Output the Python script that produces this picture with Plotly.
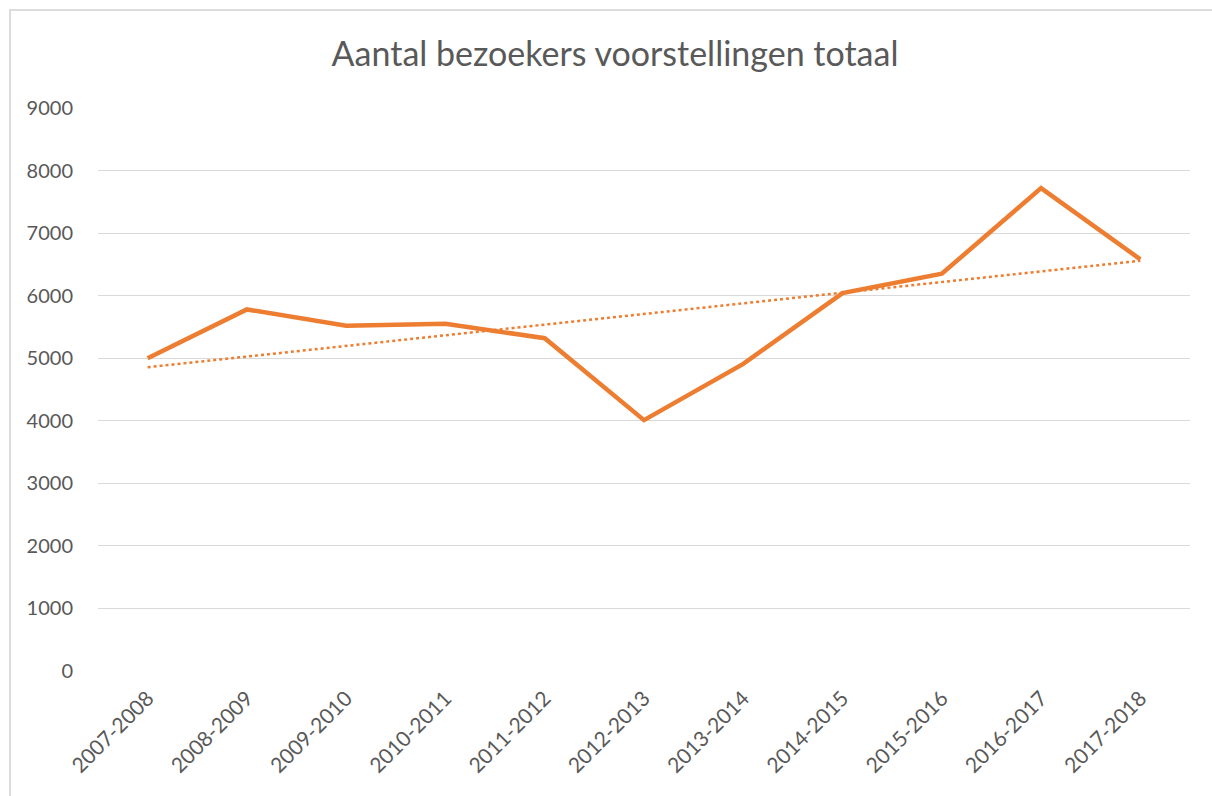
import numpy as np
import plotly.graph_objects as go

# Seasons and total visitors per season
seasons = ["2007-2008", "2008-2009", "2009-2010", "2010-2011", "2011-2012",
           "2012-2013", "2013-2014", "2014-2015", "2015-2016", "2016-2017",
           "2017-2018"]
visitors = [5000, 5780, 5520, 5550, 5320, 4010, 4910, 6040, 6350, 7720, 6580]
y_ticks = [0, 1000, 2000, 3000, 4000, 5000, 6000, 7000, 8000, 9000]

# Linear trend through the series
idx = np.arange(len(visitors))
slope, intercept = np.polyfit(idx, visitors, 1)
trend = slope * idx + intercept

W, H = 1212, 796
L, R, T, B = 98, 22, 108, 125
pw, ph = W - L - R, H - T - B

ORANGE = "#ED7D31"
GRID = "#D9D9D9"
TEXT = "#595959"
FONT = "Lato"

fig = go.Figure()
fig.add_trace(go.Scatter(
    x=seasons, y=visitors, mode="lines",
    line=dict(color=ORANGE, width=4.5, shape="linear"),
    showlegend=False, hoverinfo="x+y",
))
fig.add_trace(go.Scatter(
    x=seasons, y=trend, mode="lines",
    line=dict(color=ORANGE, width=2.5, dash="dot"),
    showlegend=False, hoverinfo="skip",
))

def px_x(p):
    return (p - L) / pw

def px_y(p):
    return 1 - (p - T) / ph

# Outer chart frame (top and left edges visible)
frame = dict(type="line", xref="paper", yref="paper",
             line=dict(color="#DCDCDC", width=2), layer="below")
fig.add_shape(**frame, x0=px_x(9), x1=px_x(W + 5), y0=px_y(10), y1=px_y(10))
fig.add_shape(**frame, x0=px_x(10), x1=px_x(10), y0=px_y(9), y1=px_y(H + 5))

fig.update_layout(
    width=W, height=H,
    margin=dict(l=L, r=R, t=T, b=B, autoexpand=False),
    paper_bgcolor="white", plot_bgcolor="white",
    font=dict(family=FONT, color=TEXT),
    title=dict(text="Aantal bezoekers voorstellingen totaal",
               x=615 / W, xref="container", xanchor="center",
               y=1 - 54 / H, yref="container", yanchor="middle",
               font=dict(family=FONT, size=34, color=TEXT)),
    xaxis=dict(type="category", categoryorder="array", categoryarray=seasons,
               range=[-0.5, len(seasons) - 0.5],
               showgrid=False, zeroline=False, showline=False,
               tickangle=-45, ticks="", tickfont=dict(size=21, color=TEXT),
               ticklabelstandoff=10),
    yaxis=dict(range=[0, 9000], tickvals=y_ticks,
               ticktext=[str(v) for v in y_ticks],
               showgrid=True, gridcolor=GRID, gridwidth=1.3,
               zeroline=False, showline=False, ticks="",
               tickfont=dict(size=20, color=TEXT),
               ticklabelstandoff=24),
)

fig.write_html("out.html")
